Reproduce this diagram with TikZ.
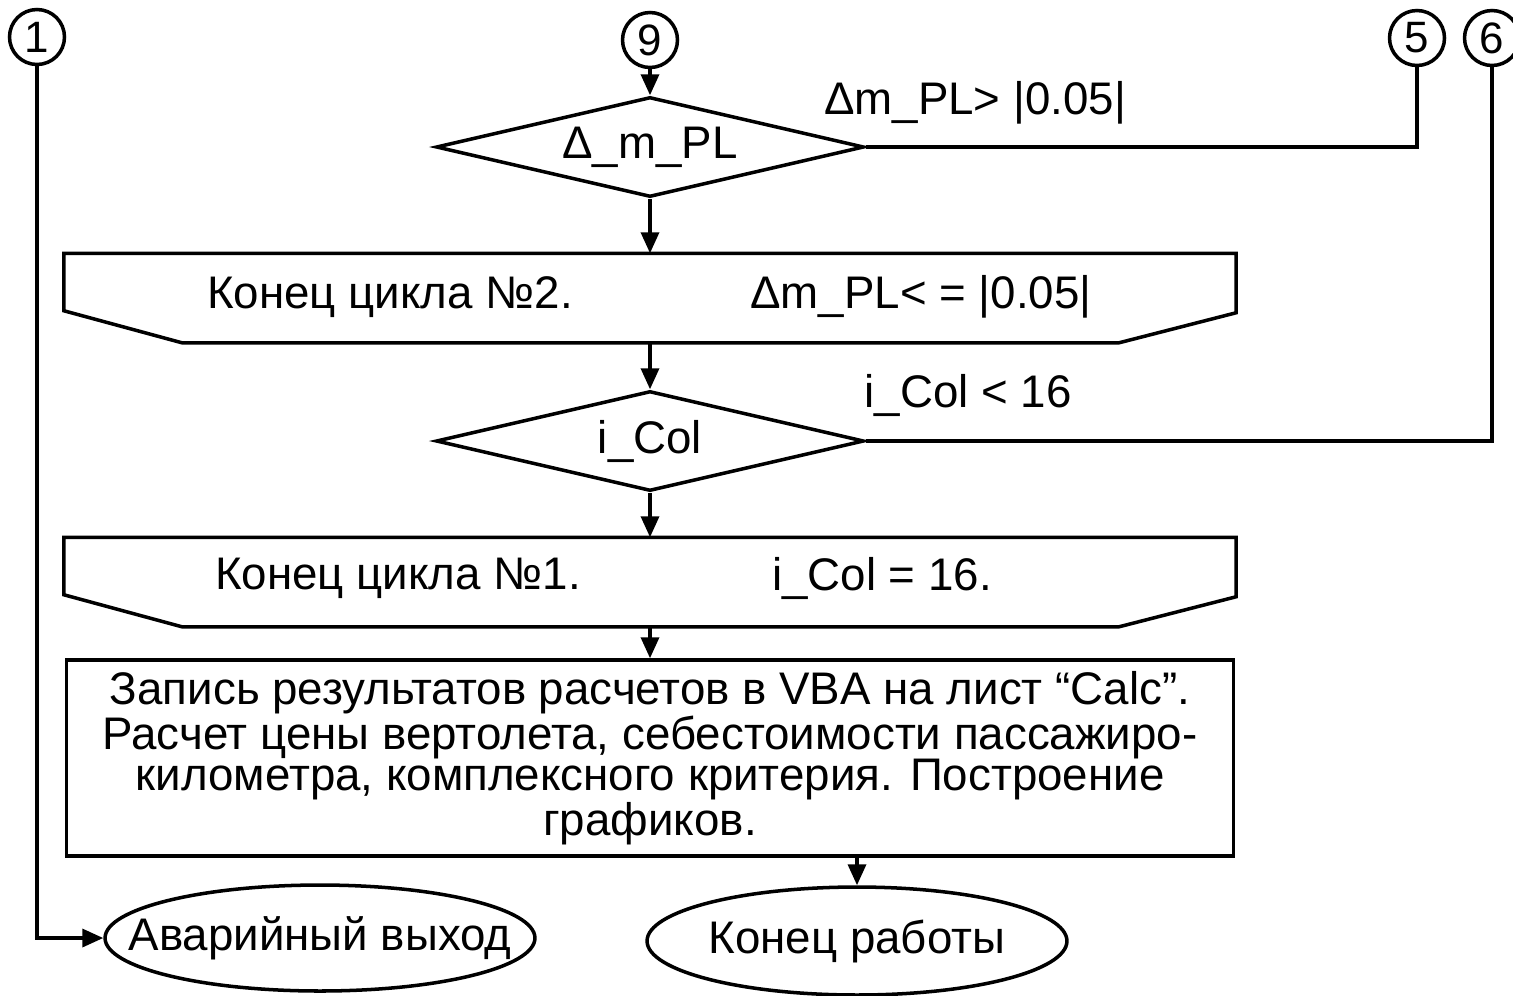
\documentclass[tikz,border=0pt]{standalone}
\usepackage{fontspec}
\setmainfont{Liberation Sans}
\usetikzlibrary{arrows.meta, positioning, calc, shapes.geometric}

\begin{document}
\begin{tikzpicture}[
    x=0.02cm, y=-0.02cm,
    line width=2pt,
    >={Triangle[length=0.42cm,width=0.36cm]},
    lbl/.style={font=\fontsize{26}{28}\selectfont, inner sep=0pt},
    conn/.style={draw, circle, minimum size=1.1cm, inner sep=0pt, font=\fontsize{25}{25}\selectfont},
    decision/.style={draw, diamond, aspect=4.3, minimum width=8.56cm, minimum height=2cm,
                     inner sep=0pt, font=\fontsize{26}{28}\selectfont},
    loopend/.style={rectangle, minimum width=23.38cm, minimum height=1.72cm, inner sep=0pt},
    procbox/.style={draw, rectangle, minimum width=23.34cm, minimum height=3.92cm, align=center,
                    inner sep=0pt, font=\fontsize{26}{23.5}\selectfont},
    term/.style={draw, ellipse, inner sep=0pt}
]
\useasboundingbox (0,0) rectangle (1513,995);

% connectors
\node[conn] (c1) at (37,37) {1};
\node[conn] (c9) at (650,40) {9};
\node[conn] (c5) at (1417,38) {5};
\node[conn] (c6) at (1492,38) {6};

% first check
\node[decision] (d1) at (650,147) {Δ\_m\_PL};
\node[lbl] (g1) at (975,103) {Δm\_PL> |0.05|};

% end of loop 2
\node[loopend] (le2) at (650,298) {};
\draw (le2.north west) -- (le2.north east) -- ($(le2.south east)+(0,-30)$)
    -- ($(le2.south east)+(-117,0)$) -- ($(le2.south west)+(118,0)$)
    -- ($(le2.south west)+(0,-32)$) -- cycle;
\node[lbl] (t2a) at (390,297) {Конец цикла №2.};
\node[lbl] (t2b) at (921,297) {Δm\_PL< = |0.05|};

% second check
\node[decision] (d2) at (650,441) {i\_Col};
\node[lbl] (g2) at (968,395) {i\_Col < 16};

% end of loop 1
\node[loopend] (le1) at (650,582) {};
\draw (le1.north west) -- (le1.north east) -- ($(le1.south east)+(0,-30)$)
    -- ($(le1.south east)+(-117,0)$) -- ($(le1.south west)+(118,0)$)
    -- ($(le1.south west)+(0,-32)$) -- cycle;
\node[lbl] (t1a) at (398,578) {Конец цикла №1.};
\node[lbl] (t1b) at (882,578) {i\_Col = 16.};

% output
\node[procbox] (proc) at (650,758) {Запись результатов расчетов в VBA на лист “Calc”.\\
    Расчет цены вертолета, себестоимости пассажиро-\\
    километра, комплексного критерия. Построение\\
    графиков.};

% terminals
\node[term, minimum width=8.6cm, minimum height=2.12cm] (e1) at (320,938) {};
\node[lbl] (e1txt) at (e1) {Аварийный выход};
\node[term, minimum width=8.4cm, minimum height=2.16cm] (e2) at (857,941) {};
\node[lbl] (e2txt) at (e2) {Конец работы};

\draw[->] (c9) -- (d1);
\draw (d1.east) -| (c5);
\draw[->] (d1) -- (le2);
\draw[->] (le2) -- (d2);
\draw (d2.east) -| (c6);
\draw[->] (d2) -- (le1);
\draw[->] (le1) -- (proc);
\draw[->] (proc.south -| e2) -- (e2);
\draw[->] (c1) |- (e1);
\end{tikzpicture}
\end{document}
